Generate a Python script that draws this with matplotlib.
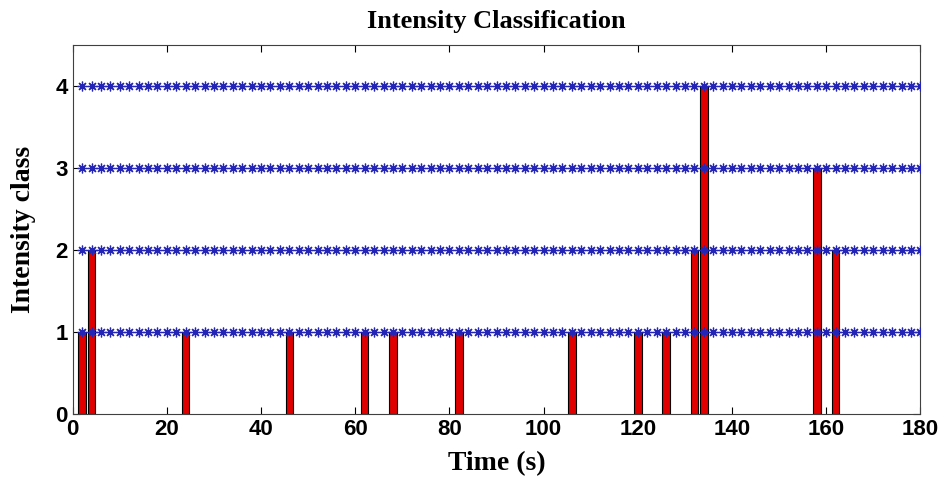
import numpy as np
import matplotlib.pyplot as plt

# event times (s) and their intensity class
times = [2, 4, 24, 46, 62, 68, 82, 106, 120, 126, 132, 134, 158, 162]
classes = [1, 2, 1, 1, 1, 1, 1, 1, 1, 1, 2, 4, 3, 2]

# reference levels drawn as starred lines
levels = [1, 2, 3, 4]
grid_t = np.arange(2, 181, 2)

fig, ax = plt.subplots(figsize=(9.44, 4.84), dpi=100)
fig.subplots_adjust(left=0.077, right=0.975, top=0.908, bottom=0.145)

ax.bar(times, classes, width=1.6, color='#e00000', edgecolor='black',
       linewidth=0.8, zorder=2)

for lv in levels:
    ax.plot(grid_t, np.full(len(grid_t), lv), '-', marker=(8, 2, 0),
            color='#2525b5', markersize=7, markeredgewidth=0.9,
            linewidth=0.8, zorder=3)

ax.set_xlim(0, 180)
ax.set_ylim(0, 4.5)
ax.set_xticks(range(0, 181, 20))
ax.set_yticks([0, 1, 2, 3, 4])
ax.tick_params(direction='in', top=True, right=True, length=5, labelsize=16)
for lab in ax.get_xticklabels() + ax.get_yticklabels():
    lab.set_fontweight('bold')
    lab.set_family('Liberation Sans')
for sp in ax.spines.values():
    sp.set_color('#404040')

ax.set_title('Intensity Classification', fontsize=19, fontweight='bold',
             family='Liberation Serif', pad=12)
ax.set_xlabel('Time (s)', fontsize=20, fontweight='bold', family='Liberation Serif', labelpad=8)
ax.set_ylabel('Intensity class', fontsize=20, fontweight='bold', family='Liberation Serif', labelpad=14)

plt.savefig('out.png')
